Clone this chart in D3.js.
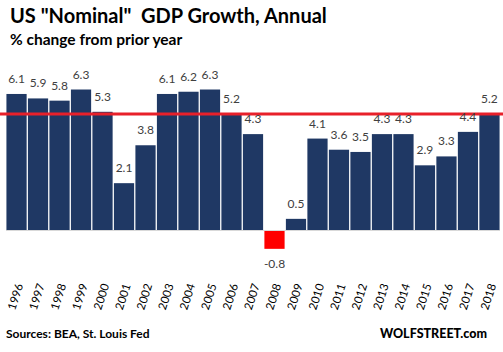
<!DOCTYPE html>
<html>
<head>
<meta charset="utf-8">
<script src="https://cdn.jsdelivr.net/npm/d3@7"></script>
<style>
  body { margin: 0; background: #fff; }
  text { font-family: Lato, "Open Sans", sans-serif; }
</style>
</head>
<body>
<svg id="chart" width="503" height="352"></svg>
<script>
const years = ["1996", "1997", "1998", "1999", "2000", "2001", "2002", "2003", "2004", "2005", "2006", "2007",
    "2008", "2009", "2010", "2011", "2012", "2013", "2014", "2015", "2016", "2017", "2018"];
const growth = [6.1, 5.9, 5.8, 6.3, 5.3, 2.1, 3.8, 6.1, 6.2, 6.3, 5.2, 4.3,
    -0.8, 0.5, 4.1, 3.6, 3.5, 4.3, 4.3, 2.9, 3.3, 4.4, 5.2];
const refLine = 5.2;

const svg = d3.select("#chart");
const width = +svg.attr("width");

const data = years.map((y, i) => ({ year: y, value: growth[i] }));

const x = d3.scaleBand()
    .domain(years)
    .range([6, 500])
    .paddingInner(0.06)
    .paddingOuter(0.02);

const y = d3.scaleLinear()
    .domain([0, 7])
    .range([230, 230 - 7 * 22.3]);

// title
svg.append("text")
    .attr("x", 10)
    .attr("y", 23)
    .attr("font-size", "20px")
    .attr("font-weight", "bold")
    .attr("fill", "#000")
    .attr("xml:space", "preserve")
    .text('US "Nominal"  GDP Growth, Annual');

svg.append("text")
    .attr("x", 10)
    .attr("y", 45)
    .attr("font-size", "15.5px")
    .attr("font-weight", "bold")
    .attr("fill", "#000")
    .text("% change from prior year");

// bars
svg.selectAll("rect.bar")
    .data(data)
    .join("rect")
    .attr("class", "bar")
    .attr("x", d => x(d.year))
    .attr("y", d => d.value >= 0 ? y(d.value) : y(0) + 1)
    .attr("width", x.bandwidth())
    .attr("height", d => Math.abs(y(d.value) - y(0)))
    .attr("fill", d => d.value >= 0 ? "#1f3864" : "#ff0000");

// baseline
svg.append("line")
    .attr("x1", 6)
    .attr("x2", 500)
    .attr("y1", y(0) + 0.5)
    .attr("y2", y(0) + 0.5)
    .attr("stroke", "#d9d9d9")
    .attr("stroke-width", 1);

// red reference line
svg.append("line")
    .attr("x1", 0)
    .attr("x2", width)
    .attr("y1", y(refLine))
    .attr("y2", y(refLine))
    .attr("stroke", "#e8202a")
    .attr("stroke-width", 3);

// value labels
svg.selectAll("text.val")
    .data(data)
    .join("text")
    .attr("class", "val")
    .attr("x", d => x(d.year) + x.bandwidth() / 2)
    .attr("y", d => d.value >= 0 ? y(d.value) - 11 : y(d.value) + 20)
    .attr("text-anchor", "middle")
    .attr("font-size", "12px")
    .attr("fill", "#404040")
    .text(d => d.value.toFixed(1));

// x axis labels
const xAxis = svg.append("g")
    .attr("transform", "translate(0, 284)")
    .call(d3.axisBottom(x).tickSize(0).tickPadding(0));
xAxis.select(".domain").remove();
xAxis.selectAll("text")
    .attr("font-size", "11.5px")
    .attr("fill", "#000")
    .attr("text-anchor", "end")
    .attr("dy", "0.35em")
    .attr("dx", "0")
    .attr("y", 0)
    .attr("transform", "translate(3,0) rotate(-72)");

// footer
svg.append("text")
    .attr("x", 6)
    .attr("y", 338)
    .attr("font-size", "12px")
    .attr("font-weight", "bold")
    .attr("fill", "#000")
    .text("Sources: BEA, St. Louis Fed");

svg.append("text")
    .attr("x", 487)
    .attr("y", 338)
    .attr("text-anchor", "end")
    .attr("font-size", "12.5px")
    .attr("font-weight", "900")
    .attr("fill", "#000")
    .text("WOLFSTREET.com");
</script>
</body>
</html>
